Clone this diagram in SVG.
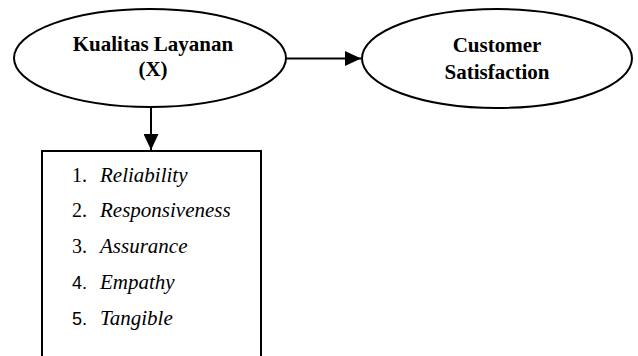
<svg xmlns="http://www.w3.org/2000/svg" width="638" height="356" viewBox="0 0 638 356">
<style>
.shape{fill:#fff;stroke:#000;stroke-width:2}
.title{font-family:"Liberation Serif",serif;font-weight:bold;font-size:21px;text-anchor:middle;fill:#000}
.num{font-family:"Liberation Serif",serif;font-size:20px;fill:#000}
.nums{font-family:"Liberation Sans",sans-serif;font-size:18px;fill:#000}
.item{font-family:"Liberation Serif",serif;font-style:italic;font-size:21px;fill:#000}
.conn{stroke:#000;stroke-width:2;fill:none}
</style>
<defs>
<marker id="arr" markerWidth="16" markerHeight="15" refX="16" refY="7.5" orient="auto" markerUnits="userSpaceOnUse">
<path d="M0,0 L16,7.5 L0,15 Z" fill="#000"/>
</marker>
</defs>
<g id="connectors">
<line class="conn" x1="286" y1="58.5" x2="361" y2="58.5" marker-end="url(#arr)"/>
<line class="conn" x1="151" y1="107" x2="151" y2="150" marker-end="url(#arr)"/>
</g>
<g id="kualitas">
<ellipse class="shape" cx="150" cy="58" rx="136" ry="49"/>
<text class="title" x="153" y="51">Kualitas Layanan</text>
<text class="title" x="153" y="76">(X)</text>
</g>
<g id="customer">
<ellipse class="shape" cx="497" cy="58.5" rx="135" ry="49.5"/>
<text class="title" x="497" y="52">Customer</text>
<text class="title" x="497" y="79">Satisfaction</text>
</g>
<g id="indikator">
<path class="shape" d="M42,360 L42,151 L261,151 L261,360"/>
<text class="num" x="72" y="182">1.</text><text class="item" x="100" y="182">Reliability</text>
<text class="num" x="72" y="217">2.</text><text class="item" x="100" y="217">Responsiveness</text>
<text class="num" x="72" y="253">3.</text><text class="item" x="100" y="253">Assurance</text>
<text class="nums" x="72" y="289">4.</text><text class="item" x="100" y="289">Empathy</text>
<text class="nums" x="72" y="325">5.</text><text class="item" x="100" y="325">Tangible</text>
</g>
</svg>
